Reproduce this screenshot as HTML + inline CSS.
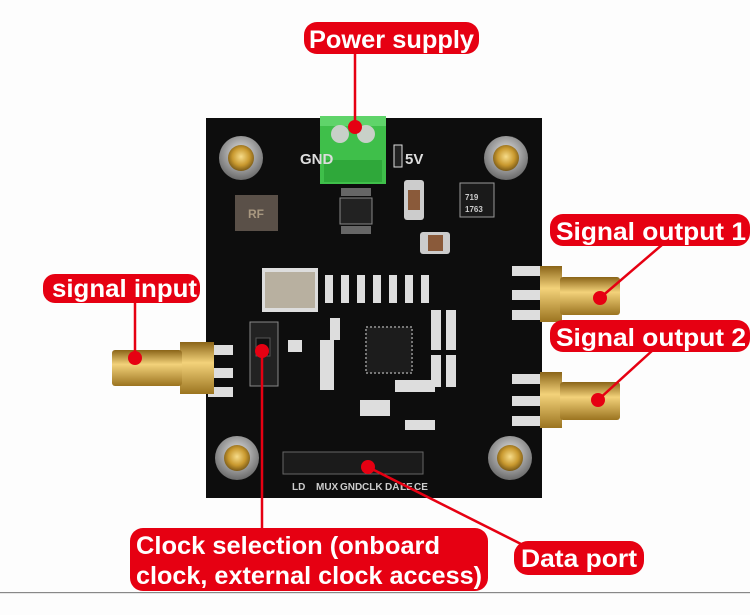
<!DOCTYPE html>
<html><head><meta charset="utf-8"><style>
html,body{margin:0;padding:0;background:#fff;width:750px;height:615px;overflow:hidden}
svg{display:block}
text{font-family:"Liberation Sans Narrow","Liberation Sans",sans-serif;font-weight:bold}
</style></head><body>
<svg width="750" height="615" viewBox="0 0 750 615" xmlns="http://www.w3.org/2000/svg">
<defs>
<radialGradient id="gold" cx="50%" cy="45%" r="55%"><stop offset="0" stop-color="#f6dc8a"/><stop offset="0.6" stop-color="#c9992f"/><stop offset="1" stop-color="#7a5a18"/></radialGradient>
<linearGradient id="goldv" x1="0" y1="0" x2="0" y2="1"><stop offset="0" stop-color="#8a6418"/><stop offset="0.4" stop-color="#f3d27a"/><stop offset="1" stop-color="#9b7420"/></linearGradient>
<radialGradient id="nut" cx="50%" cy="40%" r="60%"><stop offset="0" stop-color="#e8e8e8"/><stop offset="1" stop-color="#6a6a6a"/></radialGradient>
</defs>
<rect width="750" height="615" fill="#fdfdfd"/>
<rect x="0" y="592" width="750" height="1.2" fill="#888"/>
<!-- PCB -->
<rect x="206" y="118" width="336" height="380" fill="#0d0d0d"/>
<!-- standoffs -->
<g>
<circle cx="241" cy="158" r="22" fill="url(#nut)"/><circle cx="241" cy="158" r="13" fill="url(#gold)"/>
<circle cx="506" cy="158" r="22" fill="url(#nut)"/><circle cx="506" cy="158" r="13" fill="url(#gold)"/>
<circle cx="237" cy="458" r="22" fill="url(#nut)"/><circle cx="237" cy="458" r="13" fill="url(#gold)"/>
<circle cx="510" cy="458" r="22" fill="url(#nut)"/><circle cx="510" cy="458" r="13" fill="url(#gold)"/>
</g>
<!-- RF logo -->
<rect x="235" y="195" width="43" height="36" fill="#5a5048"/>
<text x="256" y="218" font-size="12" fill="#a89880" text-anchor="middle">RF</text>
<!-- terminal -->
<rect x="320" y="116" width="66" height="68" fill="#3fbf4a"/>
<rect x="320" y="116" width="66" height="10" fill="#5fd46a"/>
<circle cx="340" cy="134" r="9" fill="#c8d0c8"/><circle cx="366" cy="134" r="9" fill="#c8d0c8"/>
<rect x="324" y="160" width="58" height="22" fill="#2fa83a"/>
<text x="300" y="164" font-size="15" fill="#ddd" font-family="Liberation Serif">GND</text>
<text x="405" y="164" font-size="15" fill="#ddd" font-family="Liberation Serif">5V</text>
<rect x="394" y="145" width="8" height="22" fill="#222" stroke="#ddd"/>
<!-- U4 -->
<rect x="340" y="198" width="32" height="26" fill="#222" stroke="#888"/>
<rect x="341" y="188" width="30" height="8" fill="#666"/><rect x="341" y="226" width="30" height="8" fill="#666"/>
<!-- caps -->
<rect x="404" y="180" width="20" height="40" fill="#ccc" rx="3"/><rect x="408" y="190" width="12" height="20" fill="#8a5a3a"/>
<rect x="420" y="232" width="30" height="22" fill="#ccc" rx="3"/><rect x="428" y="235" width="15" height="16" fill="#8a5a3a"/>
<rect x="460" y="183" width="34" height="34" fill="#1a1a1a" stroke="#999"/>
<text x="465" y="200" font-size="8" fill="#ccc">719</text><text x="465" y="212" font-size="8" fill="#ccc">1763</text>
<!-- crystal -->
<rect x="262" y="268" width="56" height="44" fill="#ddd"/><rect x="265" y="272" width="50" height="36" fill="#b8b0a0"/>
<!-- resistor row -->
<g fill="#ddd"><rect x="325" y="275" width="8" height="28"/><rect x="341" y="275" width="8" height="28"/><rect x="357" y="275" width="8" height="28"/><rect x="373" y="275" width="8" height="28"/><rect x="389" y="275" width="8" height="28"/><rect x="405" y="275" width="8" height="28"/><rect x="421" y="275" width="8" height="28"/><rect x="431" y="310" width="10" height="40" /><rect x="446" y="310" width="10" height="40"/><rect x="431" y="355" width="10" height="32"/><rect x="446" y="355" width="10" height="32"/><rect x="320" y="340" width="14" height="50"/><rect x="330" y="318" width="10" height="22"/><rect x="395" y="380" width="40" height="12"/><rect x="360" y="400" width="30" height="16"/><rect x="405" y="420" width="30" height="10"/><rect x="288" y="340" width="14" height="12"/></g>
<!-- main IC -->
<rect x="366" y="327" width="46" height="46" fill="#1c1c1c" stroke="#777" stroke-width="2" stroke-dasharray="2 2"/>
<!-- jumper -->
<rect x="250" y="322" width="28" height="64" fill="#222" stroke="#888"/>
<rect x="256" y="338" width="14" height="18" fill="#111" stroke="#555"/>
<!-- header -->
<rect x="283" y="452" width="140" height="22" fill="#1b1b1b" stroke="#666"/>
<g font-size="10" fill="#ccc" font-family="Liberation Serif"><text x="292" y="490">LD</text><text x="316" y="490">MUX</text><text x="340" y="490">GND</text><text x="362" y="490">CLK</text><text x="385" y="490">DAT</text><text x="400" y="490">LE</text><text x="414" y="490">CE</text></g>
<!-- SMA input -->
<rect x="208" y="345" width="25" height="10" fill="#ddd"/><rect x="208" y="368" width="25" height="10" fill="#ddd"/><rect x="208" y="387" width="25" height="10" fill="#ddd"/>
<rect x="180" y="342" width="34" height="52" fill="url(#goldv)"/>
<rect x="112" y="350" width="70" height="36" fill="url(#goldv)" rx="3"/>
<!-- SMA out 1 -->
<rect x="512" y="266" width="30" height="10" fill="#ddd"/><rect x="512" y="290" width="30" height="10" fill="#ddd"/><rect x="512" y="310" width="30" height="10" fill="#ddd"/>
<rect x="540" y="266" width="22" height="56" fill="url(#goldv)"/>
<rect x="560" y="277" width="60" height="38" fill="url(#goldv)" rx="3"/>
<!-- SMA out 2 -->
<rect x="512" y="374" width="30" height="10" fill="#ddd"/><rect x="512" y="396" width="30" height="10" fill="#ddd"/><rect x="512" y="416" width="30" height="10" fill="#ddd"/>
<rect x="540" y="372" width="22" height="56" fill="url(#goldv)"/>
<rect x="560" y="382" width="60" height="38" fill="url(#goldv)" rx="3"/>
<!-- leader lines -->
<g stroke="#e60012" stroke-width="2.5" fill="none">
<line x1="355" y1="50" x2="355" y2="127"/>
<line x1="135" y1="300" x2="135" y2="358"/>
<line x1="663" y1="244" x2="600" y2="298"/>
<line x1="653" y1="350" x2="598" y2="400"/>
<line x1="262" y1="351" x2="262" y2="530"/>
<line x1="368" y1="467" x2="521" y2="544"/>
</g>
<g fill="#e60012">
<circle cx="355" cy="127" r="7"/><circle cx="135" cy="358" r="7"/><circle cx="600" cy="298" r="7"/><circle cx="598" cy="400" r="7"/><circle cx="262" cy="351" r="7"/><circle cx="368" cy="467" r="7"/>
</g>
<!-- labels -->
<g fill="#e60012">
<rect x="304" y="22" width="175" height="32" rx="13"/>
<rect x="550" y="214" width="200" height="32" rx="13"/>
<rect x="550" y="320" width="200" height="32" rx="13"/>
<rect x="43" y="274" width="157" height="29" rx="12"/>
<rect x="130" y="528" width="358" height="63" rx="13"/>
<rect x="514" y="541" width="130" height="34" rx="14"/>
</g>
<g fill="#fff" font-size="25">
<text x="309" y="48" textLength="165" lengthAdjust="spacingAndGlyphs">Power supply</text>
<text x="556" y="240" textLength="190" lengthAdjust="spacingAndGlyphs">Signal output 1</text>
<text x="556" y="346" textLength="190" lengthAdjust="spacingAndGlyphs">Signal output 2</text>
<text x="52" y="297" textLength="145" lengthAdjust="spacingAndGlyphs">signal input</text>
<text x="136" y="554" textLength="304" lengthAdjust="spacingAndGlyphs">Clock selection (onboard</text>
<text x="136" y="584" textLength="346" lengthAdjust="spacingAndGlyphs">clock, external clock access)</text>
<text x="521" y="567" textLength="116" lengthAdjust="spacingAndGlyphs">Data port</text>
</g>
</svg>
</body></html>
